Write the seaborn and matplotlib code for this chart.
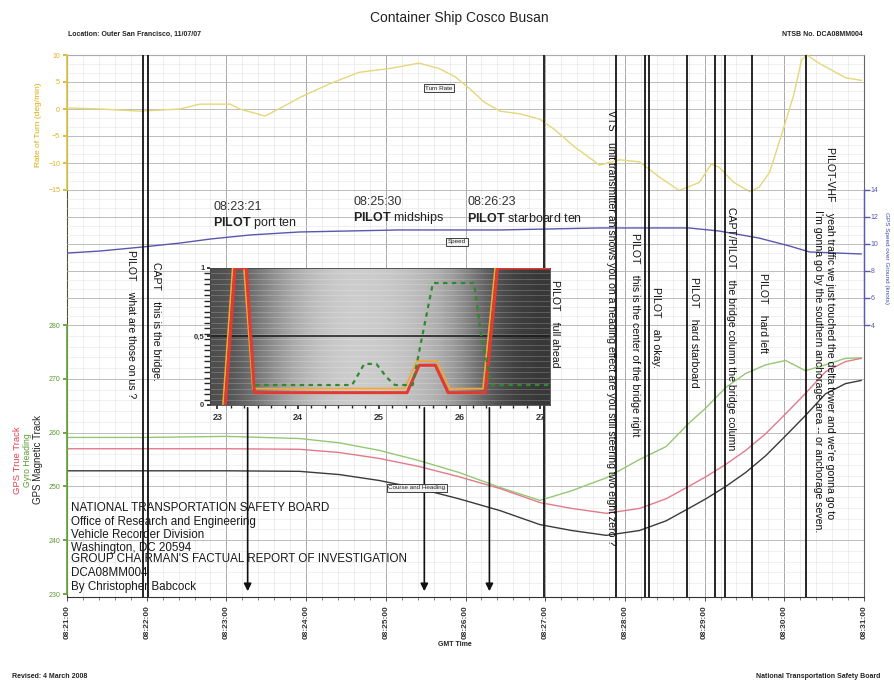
import numpy as np
import pandas as pd
import matplotlib
matplotlib.use("Agg")
import matplotlib.pyplot as plt
import seaborn as sns
from matplotlib.ticker import FixedLocator, MultipleLocator

# ---------------- data ----------------
# main time axis: seconds after 08:21:00 GMT
time_ticks = [0, 60, 120, 180, 240, 300, 360, 420, 480, 540, 600]
time_labels = ["08:21:00", "08:22:00", "08:23:00", "08:24:00", "08:25:00", "08:26:00",
               "08:27:00", "08:28:00", "08:29:00", "08:30:00", "08:31:00"]

# rate of turn (deg/min)
turn_t = [0, 25, 55, 85, 100, 123, 130, 149, 164, 175, 198, 220, 243, 265, 280, 292, 303, 314,
          326, 341, 356, 367, 382, 401, 416, 431, 446, 461, 476, 485, 491, 502, 514, 521, 529,
          538, 547, 553, 557, 566, 586, 598]
turn_rate = [0.2, 0.0, -0.4, 0.0, 0.9, 0.9, 0.0, -1.3, 0.6, 2.1, 4.7, 6.8, 7.5, 8.5, 7.5, 6.0,
             3.8, 1.3, -0.4, -0.9, -1.9, -3.8, -7.0, -10.4, -9.4, -9.8, -12.6, -15.1, -13.6,
             -10.2, -10.8, -13.6, -15.3, -14.5, -11.7, -4.7, 2.5, 9.1, 10.0, 8.5, 5.8, 5.3]
turn_ticks = [-15, -10, -5, 0, 5, 10]

# GPS speed over ground (knots)
speed_t = [0, 25, 57, 85, 108, 138, 175, 250, 326, 401, 468, 491, 521, 544, 559, 598]
speed_kts = [9.33, 9.48, 9.78, 10.07, 10.37, 10.67, 10.89, 11.04, 11.04, 11.19, 11.19, 10.96,
             10.44, 9.85, 9.41, 9.26]
speed_ticks = [4, 6, 8, 10, 12, 14]

# course and heading (deg)
hdg_t = [0, 60, 120, 175, 205, 235, 265, 295, 326, 356, 380, 406, 431, 451, 468, 481, 496,
         511, 526, 541, 556, 571, 586, 598]
gyro_heading = [259.1, 259.1, 259.3, 258.9, 258.1, 256.7, 254.8, 252.6, 249.8, 247.4, 249.2,
                251.6, 255.0, 257.4, 261.7, 264.6, 268.4, 271.0, 272.6, 273.4, 271.5, 272.6,
                273.8, 273.9]
mag_track = [252.9, 252.9, 252.9, 252.8, 252.2, 251.1, 249.6, 247.7, 245.5, 242.9, 241.8,
             240.9, 241.8, 243.6, 245.9, 247.7, 250.0, 252.6, 255.7, 259.4, 263.2, 267.2,
             269.1, 269.7]
true_track = [257.0, 257.0, 257.0, 256.9, 256.3, 255.2, 253.7, 251.8, 249.6, 247.0, 245.9,
              245.0, 245.9, 247.7, 250.0, 251.8, 254.1, 256.7, 259.8, 263.5, 267.3, 271.3,
              273.2, 273.8]
hdg_ticks = [230, 240, 250, 260, 270, 280]

# event markers (seconds after 08:21:00)
event_t = [57, 61, 359, 413, 435, 438, 467, 488, 495, 516, 556]
arrow_t = [136, 269, 318]

# inset: commands vs time (minutes after 08:00)
inset_ticks = [23, 24, 25, 26, 27]
red_x = [23.10, 23.22, 23.36, 23.46, 25.35, 25.50, 25.70, 25.86, 26.32, 26.47, 27.12]
red_y = [0.0, 1.0, 1.0, 0.09, 0.09, 0.29, 0.29, 0.09, 0.09, 1.0, 1.0]
orange_x = [23.07, 23.19, 23.33, 23.44, 25.32, 25.47, 25.72, 25.88, 26.29, 26.44]
orange_y = [0.0, 1.0, 1.0, 0.12, 0.12, 0.32, 0.32, 0.12, 0.12, 1.0]
green_x = [23.47, 24.67, 24.82, 24.97, 25.10, 25.20, 25.42, 25.52, 25.67, 26.18, 26.27, 26.40, 27.12]
green_y = [0.146, 0.146, 0.30, 0.30, 0.20, 0.146, 0.146, 0.45, 0.89, 0.89, 0.50, 0.146, 0.146]

# ---------------- style ----------------
sns.set_theme(style="ticks")
plt.rcParams["font.family"] = ["Liberation Sans", "DejaVu Sans"]
plt.rcParams["mathtext.fontset"] = "custom"
plt.rcParams["mathtext.rm"] = "Liberation Sans"
plt.rcParams["mathtext.bf"] = "Liberation Sans:bold"

W, H = 894, 684
PX0, PX1 = 67, 864
fig = plt.figure(figsize=(W / 100, H / 100), dpi=100)
fig.patch.set_facecolor("white")


def fr(x0, y0, x1, y1):
    return [x0 / W, 1 - y1 / H, (x1 - x0) / W, (y1 - y0) / H]


def t_at(px):
    return (px - PX0) / (PX1 - PX0) * 600


YELLOW = "#e6d778"
BLUE = "#5858b0"
GREEN = "#94c873"
PINK = "#e27a8c"
DARK = "#3a3a3a"

# background axes: vertical grid + time axis
bg = fig.add_axes(fr(PX0, 55, PX1, 597))
bg.set_xlim(0, 600)
bg.set_ylim(597, 55)
bg.set_yticks([])
bg.xaxis.set_major_locator(FixedLocator(time_ticks))
bg.set_xticklabels(time_labels, rotation=90, fontsize=6, fontweight="bold")
bg.xaxis.set_minor_locator(MultipleLocator(12))
bg.grid(axis="x", which="major", color="#a8a8a8", lw=0.7)
bg.grid(axis="x", which="minor", color="#e2e2e2", lw=0.4)
bg.tick_params(axis="x", which="major", length=3, width=0.6, pad=3, colors="#333")
bg.tick_params(axis="x", which="minor", length=2, width=0.5, colors="#555")
for k, s in bg.spines.items():
    s.set_linewidth(0.8)
bg.spines["top"].set_color("#888")
bg.spines["right"].set_color("#666")
bg.spines["left"].set_color("#4a5a30")
bg.spines["bottom"].set_color("#333")


def overlay(rect, ylim, ticks, minor):
    ax = fig.add_axes(rect)
    ax.set_xlim(0, 600)
    ax.set_ylim(*ylim)
    ax.patch.set_alpha(0)
    for s in ax.spines.values():
        s.set_visible(False)
    ax.set_xticks([])
    ax.set_yticks(ticks)
    ax.yaxis.set_minor_locator(MultipleLocator(minor))
    ax.grid(axis="y", which="major", color="#b2b2b2", lw=0.6)
    ax.grid(axis="y", which="minor", color="#e5e5e5", lw=0.4)
    ax.tick_params(axis="y", which="minor", length=0)
    return ax


# top panel: rate of turn
at = overlay(fr(PX0, 55, PX1, 190), (-15, 10), turn_ticks, 5 / 3)
at.spines["left"].set_visible(True)
at.spines["left"].set_color("#e0c850")
at.tick_params(axis="y", which="major", labelsize=5, colors="#e0b020", length=3, pad=2)
sns.lineplot(x=turn_t, y=turn_rate, ax=at, color=YELLOW, linewidth=1.0,
             estimator=None, clip_on=False)
at.set_xlim(0, 600)
at.set_ylim(-15, 10)

# middle panel: speed (right axis)
am = overlay(fr(PX0, 190, PX1, 325), (4, 14), speed_ticks, 2 / 3)
am.yaxis.tick_right()
am.spines["right"].set_visible(True)
am.spines["right"].set_color(BLUE)
am.spines["right"].set_linewidth(1.0)
am.tick_params(axis="y", which="major", labelsize=5, colors=BLUE, length=4, width=1, pad=1)
sns.lineplot(x=speed_t, y=speed_kts, ax=am, color=BLUE, linewidth=1.0, estimator=None)
am.set_xlim(0, 600)
am.set_ylim(4, 14)

# bottom panel: course & heading
ab = overlay(fr(PX0, 325, PX1, 594), (230, 280), hdg_ticks, 2)
ab.spines["left"].set_visible(True)
ab.spines["left"].set_color("#6aa840")
ab.tick_params(axis="y", which="major", labelsize=5, colors="#5a9a30", length=3, pad=2)
sns.lineplot(x=hdg_t, y=gyro_heading, ax=ab, color=GREEN, linewidth=1.0, estimator=None)
sns.lineplot(x=hdg_t, y=true_track, ax=ab, color=PINK, linewidth=1.0, estimator=None)
sns.lineplot(x=hdg_t, y=mag_track, ax=ab, color=DARK, linewidth=1.0, estimator=None)
ab.set_xlim(0, 600)
ab.set_ylim(230, 280)

# foreground axes: events, annotations
fg = fig.add_axes(fr(PX0, 55, PX1, 597))
fg.set_xlim(0, 600)
fg.set_ylim(597, 55)
fg.patch.set_alpha(0)
fg.axis("off")
fg.vlines(event_t, 55, 597, color="#151515", lw=1.3)
for t in arrow_t:
    fg.annotate("", xy=(t, 594), xytext=(t, 405),
                arrowprops=dict(arrowstyle="-|>", color="#111", lw=1.2, mutation_scale=11))

ann = [
    (131, 250, "PILOT    what are those on us ?"),
    (156, 262, "CAPT    this is the bridge."),
    (555, 280, "PILOT    full ahead"),
    (611, 110, "VTS    unit transmitter ah shows you on a heading effect are you still steering two eight zero ?"),
    (635, 233, "PILOT    this is the center of the bridge right"),
    (656, 287, "PILOT    ah okay."),
    (694, 277, "PILOT    hard starboard"),
    (731, 207, "CAPT/PILOT    the bridge column the bridge column"),
    (763, 273, "PILOT    hard left"),
    (830, 147, "PILOT-VHF    yeah traffic we just touched the delta tower and we're gonna go to"),
    (818, 210, "I'm gonna go by the southern anchorage area -- or anchorage seven."),
]
for px, py, s in ann:
    fg.text(t_at(px), py, s, rotation=270, ha="center", va="top", fontsize=7.6, color="#111")

box = dict(boxstyle="square,pad=0.25", fc="#f2f2f2", ec="#222", lw=0.6)
fg.text(t_at(439), 88, "Turn Rate", fontsize=4.5, ha="center", va="center", bbox=box)
fg.text(t_at(457), 242, "Speed", fontsize=4.5, ha="center", va="center", bbox=box)
fg.text(t_at(417), 488, "Course and Heading", fontsize=4.5, ha="center", va="center", bbox=box)

big = [(213, "08:23:21", r"$\bf{PILOT}$ port ten", 207),
       (353, "08:25:30", r"$\bf{PILOT}$ midships", 202),
       (467, "08:26:23", r"$\bf{PILOT}$ starboard ten", 202)]
for px, tm, cmd, py in big:
    fg.text(t_at(px), py, tm, fontsize=9, color="#333", ha="left", va="center")
    fg.text(t_at(px), py + 16, cmd, fontsize=9, color="#222", ha="left", va="center")

ntsb = ["NATIONAL TRANSPORTATION SAFETY BOARD", "Office of Research and Engineering",
        "Vehicle Recorder Division", "Washington, DC 20594",
        "GROUP CHAIRMAN'S FACTUAL REPORT OF INVESTIGATION", "DCA08MM004",
        "By Christopher Babcock"]
ny = [508, 522, 535, 548, 559, 573, 587]
for s, y in zip(ntsb, ny):
    fg.text(t_at(71), y, s, fontsize=8.4, color="#1a1a1a", ha="left", va="center")

# inset
ai = fig.add_axes(fr(210, 268, 550, 405))
ai.set_zorder(20)
XL = (22.91, 27.12)
grad = np.array([[0.3, 0.4, 0.55, 0.68, 0.76, 0.8, 0.8, 0.78, 0.74, 0.68, 0.55, 0.35, 0.25, 0.22]])
ai.imshow(grad, aspect="auto", cmap="gray", vmin=0, vmax=1, extent=[XL[0], XL[1], 0, 1],
          interpolation="bicubic", zorder=0)
ai.set_xlim(*XL)
ai.set_ylim(0, 1)
ai.yaxis.set_minor_locator(MultipleLocator(0.04))
ai.grid(axis="y", which="minor", color="white", alpha=0.22, lw=0.6)
ai.axhline(0.5, color="#1a1a1a", lw=1.1, zorder=2)
sns.lineplot(x=orange_x, y=orange_y, ax=ai, color="#f0a830", linewidth=1.2, estimator=None, zorder=3)
sns.lineplot(x=red_x, y=red_y, ax=ai, color="#e23a30", linewidth=2.2, estimator=None, zorder=4)
sns.lineplot(x=green_x, y=green_y, ax=ai, color="#2f8a2f", linewidth=1.6, estimator=None,
             linestyle=(0, (2, 2)), zorder=5)
ai.set_xlim(*XL)
ai.set_ylim(0, 1)
ai.set_xticks(inset_ticks)
ai.set_xticklabels([str(v) for v in inset_ticks], fontsize=6.5, fontweight="bold", color="#333")
ai.set_yticks([0, 0.5, 1])
ai.set_yticklabels(["0", "0,5", "1"], fontsize=5.5, fontweight="bold", color="#333")
ai.xaxis.set_minor_locator(MultipleLocator(1 / 6))
ai.tick_params(axis="x", which="major", length=3, pad=3)
ai.tick_params(axis="x", which="minor", length=2)
ai.tick_params(axis="y", which="major", length=2, pad=2)
for s in ai.spines.values():
    s.set_color("#444")
    s.set_linewidth(0.6)

# header, axis titles, footer
fig.text(459 / W, 1 - 18 / H, "Container Ship Cosco Busan", fontsize=10, ha="center", va="center", color="#222")
fig.text(68 / W, 1 - 34 / H, "Location: Outer San Francisco, 11/07/07", fontsize=5, fontweight="bold",
         ha="left", va="center", color="#222")
fig.text(863 / W, 1 - 34 / H, "NTSB No. DCA08MM004", fontsize=5, fontweight="bold",
         ha="right", va="center", color="#222")
fig.text(38 / W, 1 - 125 / H, "Rate of Turn (deg/min)", rotation=90, fontsize=6, color="#e0a800",
         ha="center", va="center")
fig.text(38 / W, 1 - 460 / H, "GPS Magnetic Track", rotation=90, fontsize=7, color="#222",
         ha="center", va="center")
fig.text(28 / W, 1 - 460 / H, "Gyro Heading", rotation=90, fontsize=6.2, color="#5a9a30",
         ha="center", va="center")
fig.text(18 / W, 1 - 460 / H, "GPS True Track", rotation=90, fontsize=6.8, color="#e04050",
         ha="center", va="center")
fig.text(887 / W, 1 - 258 / H, "GPS Speed over Ground (knots)", rotation=270, fontsize=4.6,
         color="#4848a8", ha="center", va="center")
fig.text(455 / W, 1 - 645 / H, "GMT Time", fontsize=5, fontweight="bold", ha="center", va="center", color="#222")
fig.text(12 / W, 1 - 677 / H, "Revised: 4 March 2008", fontsize=5, fontweight="bold", ha="left",
         va="center", color="#222")
fig.text(880 / W, 1 - 677 / H, "National Transportation Safety Board", fontsize=5, fontweight="bold",
         ha="right", va="center", color="#222")

fig.savefig("out.png", dpi=100)
